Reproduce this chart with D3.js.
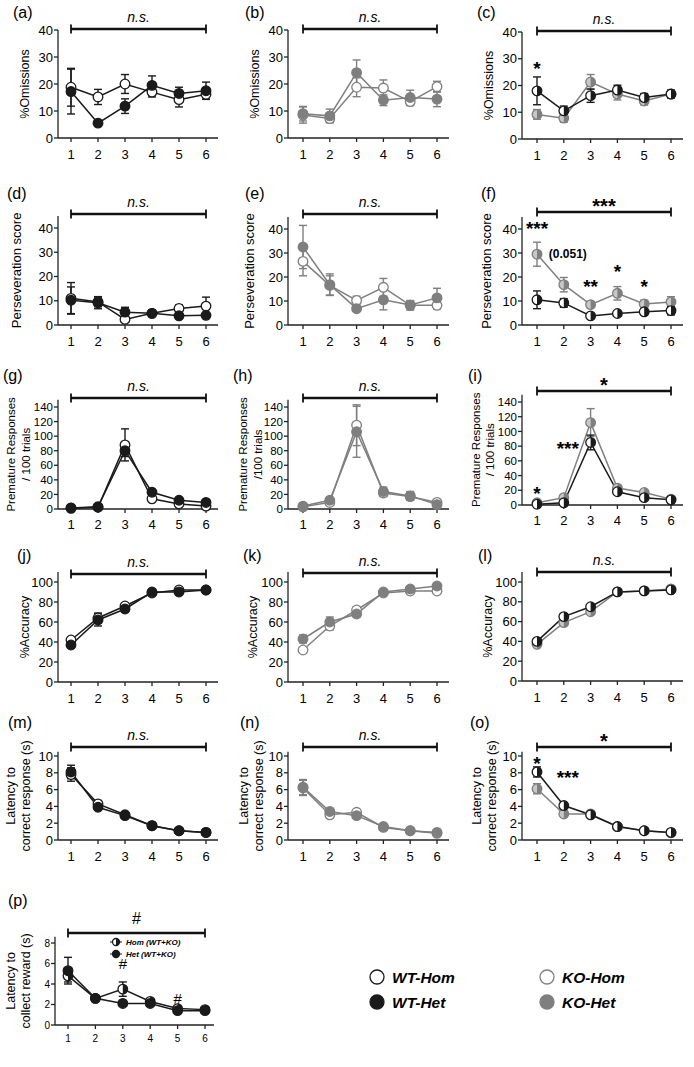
<!DOCTYPE html>
<html><head><meta charset="utf-8">
<script src="https://cdn.jsdelivr.net/npm/d3@7"></script>
<style>
body{margin:0;background:#fff;}
svg text{font-family:"Liberation Sans",Arial,Helvetica,sans-serif;}
</style></head>
<body><svg id="c" width="694" height="1067"></svg>
<script>
// ---------------- DATA ----------------
const sessions = [1,2,3,4,5,6];
const BLACK = "#1a1a1a", GREY = "#7f7f7f";

// (a) Omissions WT
const omWTHom = [18.8,15.2,20.0,17.0,14.2,16.2], omWTHomErr = [7.0,2.8,3.5,1.8,2.7,1.8];
const omWTHet = [17.2,5.5,11.8,19.5,16.5,17.5],  omWTHetErr = [8.3,0.7,2.7,3.5,2.3,3.2];
// (b) Omissions KO
const omKOHom = [8.5,7.2,18.8,18.5,13.5,19.0],   omKOHomErr = [3.0,1.5,3.5,3.0,1.5,2.0];
const omKOHet = [9.0,8.2,24.2,14.0,15.0,14.4],   omKOHetErr = [2.7,2.5,4.7,2.0,2.7,2.8];
// (c) Omissions WT vs KO
const omWT = [18.0,10.5,16.2,18.3,15.5,16.8],    omWTErr = [5.2,1.8,2.5,1.8,1.5,1.5];
const omKO = [9.2,7.8,21.3,16.8,14.2,16.8],      omKOErr = [1.8,1.5,2.8,2.2,1.5,1.5];

// (d) Perseveration WT
const pWTHom = [11.0,9.5,2.3,4.8,6.8,7.8],  pWTHomErr = [6.5,2.0,1.0,0.8,1.5,3.7];
const pWTHet = [10.2,9.2,5.3,4.8,3.8,4.0],  pWTHetErr = [5.5,2.5,2.0,1.0,1.0,0.8];
// (e) Perseveration KO
const pKOHom = [26.5,16.5,10.2,15.7,8.2,8.2],  pKOHomErr = [6.0,4.0,1.8,3.7,2.0,1.5];
const pKOHet = [32.5,16.8,6.8,10.5,8.3,11.3],  pKOHetErr = [9.0,4.5,1.0,4.2,1.5,4.0];
// (f) Perseveration WT vs KO
const pWT = [10.5,9.2,3.8,4.8,5.5,6.0],     pWTErr = [3.7,1.8,0.8,0.6,0.8,1.8];
const pKO = [29.5,16.8,8.5,13.2,8.8,9.6],   pKOErr = [5.0,3.0,0.8,2.8,1.5,2.2];

// (g) Premature WT
const prWTHom = [1,2.5,88,14,7,4],   prWTHomErr = [0.5,1,22,2,1,1];
const prWTHet = [1.5,3,80,23,12,9],  prWTHetErr = [0.5,1,8,4,2,2];
// (h) Premature KO
const prKOHom = [3,9,115,22,17,9],   prKOHomErr = [1,2,28,5,5,2];
const prKOHet = [4,12,106,24,18,6],  prKOHetErr = [1,3,35,6,6,2];
// (i) Premature WT vs KO
const prWT = [1,3,85,18,10,7],       prWTErr = [0.5,1,10,2,2,1];
const prKO = [3,10,112,23,17,8],     prKOErr = [1,2,19,4,3,2];

// (j) Accuracy WT
const acWTHom = [42,64,76,89,92,92], acWTHomErr = [3,5,2,1,1,1];
const acWTHet = [37,62,73,90,90,92], acWTHetErr = [2,6,3,1,1,1];
// (k) Accuracy KO
const acKOHom = [32,56,72,89,91,91], acKOHomErr = [2,4,3,1,1,1];
const acKOHet = [43,60,68,90,93,96], acKOHetErr = [4,5,3,1,1,1];
// (l) Accuracy WT vs KO
const acWT = [40,65,75,90,91,92],    acWTErr = [2,3,2,1,1,1];
const acKO = [37,59,70,90,91,93],    acKOErr = [2,3,2,1,1,1];

// (m) Latency correct WT
const lcWTHom = [7.8,4.3,3.0,1.7,1.1,0.9], lcWTHomErr = [0.8,0.4,0.2,0.1,0.1,0.1];
const lcWTHet = [8.1,3.9,2.9,1.7,1.1,0.9], lcWTHetErr = [0.8,0.3,0.2,0.1,0.1,0.1];
// (n) Latency correct KO
const lcKOHom = [6.2,3.0,3.3,1.5,1.1,0.8], lcKOHomErr = [0.9,0.3,0.2,0.1,0.1,0.1];
const lcKOHet = [6.3,3.4,2.9,1.6,1.1,0.9], lcKOHetErr = [0.9,0.3,0.2,0.1,0.1,0.1];
// (o) Latency correct WT vs KO
const lcWT = [8.1,4.1,3.0,1.6,1.1,0.9],  lcWTErr = [0.6,0.2,0.2,0.1,0.1,0.1];
const lcKO = [6.1,3.1,3.1,1.6,1.1,0.85], lcKOErr = [0.6,0.2,0.2,0.1,0.1,0.1];

// (p) Latency to collect reward Hom vs Het
const lrHom = [4.8,2.6,3.5,2.3,1.6,1.5], lrHomErr = [0.6,0.2,0.7,0.2,0.2,0.1];
const lrHet = [5.3,2.6,2.1,2.1,1.4,1.4], lrHetErr = [1.3,0.1,0.1,0.1,0.1,0.1];

const ticksOm = [0,10,20,30,40];
const ticksPers = [0,10,20,30,40];
const ticksPrem = [0,20,40,60,80,100,120,140];
const ticksAcc = [0,20,40,60,80,100];
const ticksLat = [0,2,4,6,8,10];
const ticksRew = [0,2,4,6,8];

const legendLabels = ["WT-Hom","KO-Hom","WT-Het","KO-Het"];
const pLegendLabels = ["Hom (WT+KO)","Het (WT+KO)"];

// ---------------- LAYOUT ----------------
const svg = d3.select("#c");
const cols = [
  {ax:58, t1:71, t6:206, xe:218},
  {ax:288, t1:303, t6:437, xe:449},
  {ax:522, t1:537, t6:671, xe:683},
  {ax:55, t1:68, t6:205, xe:214}
];

function marker(g, x, y, style, r) {
  r = r || 4.8;
  const col = style.indexOf("Grey") >= 0 ? GREY : BLACK;
  if (style.startsWith("filled")) {
    g.append("circle").attr("cx",x).attr("cy",y).attr("r",r).attr("fill",col).attr("stroke",col).attr("stroke-width",1.3);
  } else if (style.startsWith("open")) {
    g.append("circle").attr("cx",x).attr("cy",y).attr("r",r).attr("fill","#fff").attr("stroke",col).attr("stroke-width",1.3);
  } else { // half
    g.append("circle").attr("cx",x).attr("cy",y).attr("r",r).attr("fill",style==="halfGrey"?"#c8c8c8":"#fff").attr("stroke",col).attr("stroke-width",1.3);
    g.append("path").attr("d",`M${x},${y-r}A${r},${r} 0 0 1 ${x},${y+r}Z`).attr("fill",col);
  }
}

function panel(p) {
  const c = cols[p.col];
  const g = svg.append("g");
  const x = d3.scaleLinear().domain([1,6]).range([c.t1, c.t6]);
  const y = d3.scaleLinear().domain([0, p.tickTop]).range([p.y0, p.yTop]);
  const fs = p.fs || 13, yfs = p.yfs || fs;
  // panel label
  g.append("text").attr("x", p.labX).attr("y", p.labY).attr("font-size", 16).text(p.label);
  // y axis
  g.append("line").attr("x1",c.ax).attr("x2",c.ax).attr("y1",p.y0).attr("y2",y(p.axisMax)).attr("stroke","#222").attr("stroke-width",1.3);
  p.ticks.forEach(t => {
    g.append("line").attr("x1",c.ax-4).attr("x2",c.ax).attr("y1",y(t)).attr("y2",y(t)).attr("stroke","#222").attr("stroke-width",1.3);
    g.append("text").attr("x",c.ax-5).attr("y",y(t)).attr("dy","0.36em").attr("text-anchor","end").attr("font-size",yfs).text(t);
  });
  // x axis
  g.append("line").attr("x1",c.ax).attr("x2",c.xe).attr("y1",p.y0).attr("y2",p.y0).attr("stroke","#222").attr("stroke-width",1.3);
  sessions.forEach(s => {
    g.append("line").attr("x1",x(s)).attr("x2",x(s)).attr("y1",p.y0).attr("y2",p.y0+4).attr("stroke","#222").attr("stroke-width",1.3);
    g.append("text").attr("x",x(s)).attr("y",p.y0+(p.xlabOff||21)).attr("text-anchor","middle").attr("font-size",fs).text(s);
  });
  // y title
  const tx = p.titleX, ty = (p.y0 + y(p.axisMax))/2;
  p.title.forEach((t,i) => {
    g.append("text").attr("transform",`translate(${tx[i]},${ty}) rotate(-90)`).attr("text-anchor","middle").attr("font-size",p.tfs||12.5).text(t);
  });
  // significance bar
  g.append("line").attr("x1",x(1)).attr("x2",x(6)).attr("y1",p.barY).attr("y2",p.barY).attr("stroke","#111").attr("stroke-width",2.6);
  [1,6].forEach(s => g.append("line").attr("x1",x(s)).attr("x2",x(s)).attr("y1",p.barY-4.5).attr("y2",p.barY+4.5).attr("stroke","#111").attr("stroke-width",1.8));
  const sig = g.append("text").attr("x",(x(1)+x(6))/2).attr("text-anchor","middle").text(p.sig);
  if (p.sig === "n.s.") sig.attr("y",p.barY-7).attr("font-size",14).attr("font-style","italic");
  else if (p.sig === "#") sig.attr("y",p.barY-9).attr("font-size",16);
  else sig.attr("y",p.barY+1).attr("font-size",20).attr("font-weight","bold");
  // series
  p.series.forEach(s => {
    const col = s.style.indexOf("Grey") >= 0 ? GREY : BLACK;
    const line = d3.line().x((d,i)=>x(sessions[i])).y(d=>y(d));
    g.append("path").attr("d", line(s.v)).attr("fill","none").attr("stroke",col).attr("stroke-width",1.5);
  });
  p.series.forEach(s => {
    const col = s.style.indexOf("Grey") >= 0 ? GREY : BLACK;
    s.v.forEach((v,i) => {
      const xx = x(sessions[i]), lo = y(Math.max(0, v - s.e[i])), hi = y(v + s.e[i]);
      g.append("line").attr("x1",xx).attr("x2",xx).attr("y1",lo).attr("y2",hi).attr("stroke",col).attr("stroke-width",1.4);
      [lo,hi].forEach(yy => g.append("line").attr("x1",xx-4).attr("x2",xx+4).attr("y1",yy).attr("y2",yy).attr("stroke",col).attr("stroke-width",1.4));
    });
  });
  p.series.forEach(s => {
    s.v.forEach((v,i) => marker(g, x(sessions[i]), y(v), s.style, p.r));
  });
  // annotations
  (p.ann||[]).forEach(a => {
    const t = g.append("text").attr("x", x(a.s)).attr("y", y(a.v)).attr("text-anchor","middle").attr("font-weight","bold").text(a.t);
    if (a.t === "#") t.attr("font-size",15).attr("font-weight","normal").attr("dy","0.35em");
    else if (a.t.startsWith("(")) t.attr("font-size",12).attr("dy","0.35em");
    else t.attr("font-size",19).attr("dy","0.7em");
  });
  return {g, x, y};
}

const panels = [
  {label:"(a)", col:0, labX:13, labY:18, y0:138, yTop:30, tickTop:40, axisMax:40, ticks:ticksOm, barY:29, sig:"n.s.", title:["%Omissions"], titleX:[29],
   series:[{v:omWTHom,e:omWTHomErr,style:"openBlack"},{v:omWTHet,e:omWTHetErr,style:"filledBlack"}]},
  {label:"(b)", col:1, labX:245, labY:18, y0:138, yTop:30, tickTop:40, axisMax:40, ticks:ticksOm, barY:29, sig:"n.s.", title:["%Omissions"], titleX:[259],
   series:[{v:omKOHom,e:omKOHomErr,style:"openGrey"},{v:omKOHet,e:omKOHetErr,style:"filledGrey"}]},
  {label:"(c)", col:2, labX:477, labY:18, y0:139, yTop:32, tickTop:40, axisMax:40, ticks:ticksOm, barY:31, sig:"n.s.", title:["%Omissions"], titleX:[493],
   series:[{v:omKO,e:omKOErr,style:"halfGrey"},{v:omWT,e:omWTErr,style:"halfBlack"}],
   ann:[{t:"*",s:1,v:29}]},

  {label:"(d)", col:0, labX:7, labY:199, y0:325, yTop:228, tickTop:40, axisMax:45, ticks:ticksPers, barY:214, sig:"n.s.", title:["Perseveration score"], titleX:[21], tfs:13,
   series:[{v:pWTHom,e:pWTHomErr,style:"openBlack"},{v:pWTHet,e:pWTHetErr,style:"filledBlack"}]},
  {label:"(e)", col:1, labX:245, labY:199, y0:325, yTop:229, tickTop:40, axisMax:45, ticks:ticksPers, barY:214, sig:"n.s.", title:["Perseveration score"], titleX:[254], tfs:13,
   series:[{v:pKOHom,e:pKOHomErr,style:"openGrey"},{v:pKOHet,e:pKOHetErr,style:"filledGrey"}]},
  {label:"(f)", col:2, labX:481, labY:199, y0:325, yTop:229, tickTop:40, axisMax:45, ticks:ticksPers, barY:212, sig:"***", title:["Perseveration score"], titleX:[491], tfs:13,
   series:[{v:pKO,e:pKOErr,style:"halfGrey"},{v:pWT,e:pWTErr,style:"halfBlack"}],
   ann:[{t:"***",s:1,v:43},{t:"(0.051)",s:2.15,v:29.7},{t:"**",s:3,v:19},{t:"*",s:4,v:25},{t:"*",s:5,v:19}]},

  {label:"(g)", col:0, labX:3, labY:381, y0:509, yTop:407, tickTop:140, axisMax:150, ticks:ticksPrem, barY:398, sig:"n.s.", yfs:11.5, title:["Premature Responses","/ 100 trials"], titleX:[15,30], tfs:11.5, xlabOff:20,
   series:[{v:prWTHom,e:prWTHomErr,style:"openBlack"},{v:prWTHet,e:prWTHetErr,style:"filledBlack"}]},
  {label:"(h)", col:1, labX:233, labY:381, y0:509, yTop:407, tickTop:140, axisMax:150, ticks:ticksPrem, barY:398, sig:"n.s.", yfs:11.5, title:["Premature Responses","/100 trials"], titleX:[247,262], tfs:11.5, xlabOff:20,
   series:[{v:prKOHom,e:prKOHomErr,style:"openGrey"},{v:prKOHet,e:prKOHetErr,style:"filledGrey"}]},
  {label:"(i)", col:2, labX:468, labY:381, y0:505, yTop:402, tickTop:140, axisMax:150, ticks:ticksPrem, barY:391, sig:"*", yfs:11.5, title:["Premature Responses","/ 100 trials"], titleX:[480,494], tfs:11.5, xlabOff:20,
   series:[{v:prKO,e:prKOErr,style:"halfGrey"},{v:prWT,e:prWTErr,style:"halfBlack"}],
   ann:[{t:"*",s:1,v:25},{t:"***",s:2.15,v:86}]},

  {label:"(j)", col:0, labX:17, labY:561, y0:682, yTop:582, tickTop:100, axisMax:110, ticks:ticksAcc, barY:574, sig:"n.s.", title:["%Accuracy"], titleX:[29],
   series:[{v:acWTHom,e:acWTHomErr,style:"openBlack"},{v:acWTHet,e:acWTHetErr,style:"filledBlack"}]},
  {label:"(k)", col:1, labX:243, labY:561, y0:682, yTop:582, tickTop:100, axisMax:110, ticks:ticksAcc, barY:573, sig:"n.s.", title:["%Accuracy"], titleX:[257],
   series:[{v:acKOHom,e:acKOHomErr,style:"openGrey"},{v:acKOHet,e:acKOHetErr,style:"filledGrey"}]},
  {label:"(l)", col:2, labX:478, labY:561, y0:681, yTop:582, tickTop:100, axisMax:110, ticks:ticksAcc, barY:572, sig:"n.s.", title:["%Accuracy"], titleX:[492],
   series:[{v:acKO,e:acKOErr,style:"halfGrey"},{v:acWT,e:acWTErr,style:"halfBlack"}]},

  {label:"(m)", col:0, labX:8, labY:728, y0:840, yTop:756, tickTop:10, axisMax:10.5, ticks:ticksLat, barY:747, sig:"n.s.", title:["Latency to","correct response (s)"], titleX:[15,30],
   series:[{v:lcWTHom,e:lcWTHomErr,style:"openBlack"},{v:lcWTHet,e:lcWTHetErr,style:"filledBlack"}]},
  {label:"(n)", col:1, labX:240, labY:728, y0:840, yTop:756, tickTop:10, axisMax:10.5, ticks:ticksLat, barY:747, sig:"n.s.", title:["Latency to","correct response (s)"], titleX:[248,263],
   series:[{v:lcKOHom,e:lcKOHomErr,style:"openGrey"},{v:lcKOHet,e:lcKOHetErr,style:"filledGrey"}]},
  {label:"(o)", col:2, labX:470, labY:728, y0:840, yTop:756, tickTop:10, axisMax:10.5, ticks:ticksLat, barY:747, sig:"*", title:["Latency to","correct response (s)"], titleX:[481,496],
   series:[{v:lcKO,e:lcKOErr,style:"halfGrey"},{v:lcWT,e:lcWTErr,style:"halfBlack"}],
   ann:[{t:"*",s:1,v:9.9},{t:"***",s:2.15,v:8.3}]},

  {label:"(p)", col:3, labX:8, labY:906, y0:1025, yTop:943, tickTop:8, axisMax:8.6, ticks:ticksRew, barY:933, sig:"#", title:["Latency to","collect reward (s)"], titleX:[15,30], fs:10, xlabOff:17,
   series:[{v:lrHom,e:lrHomErr,style:"halfBlack"},{v:lrHet,e:lrHetErr,style:"filledBlack"}],
   ann:[{t:"#",s:3,v:6.0},{t:"#",s:5,v:2.6}]}
];

const pStyles = ["halfBlack","filledBlack"];
panels.forEach(p => {
  const r = panel(p);
  if (p.label === "(p)") {
    const lg = r.g;
    pLegendLabels.forEach((t,i) => {
      const yy = 942 + i*12;
      lg.append("line").attr("x1",110).attr("x2",122).attr("y1",yy).attr("y2",yy).attr("stroke",BLACK).attr("stroke-width",1);
      marker(lg,116,yy,pStyles[i],3.5);
      lg.append("text").attr("x",126).attr("y",yy).attr("dy","0.35em").attr("font-size",8).attr("font-style","italic").attr("font-weight","bold").text(t);
    });
  }
});

// bottom legend
const legStyles = ["openBlack","openGrey","filledBlack","filledGrey"];
const legPos = [[377,977],[547,977],[377,1002],[547,1002]];
legendLabels.forEach((t,i) => {
  const [lx,ly] = legPos[i];
  const lg = svg.append("g");
  marker(lg, lx, ly, legStyles[i], 7);
  lg.append("text").attr("x",lx+15).attr("y",ly).attr("dy","0.36em").attr("font-size",15.5).attr("font-style","italic").attr("font-weight","bold").text(t);
});
</script></body></html>
